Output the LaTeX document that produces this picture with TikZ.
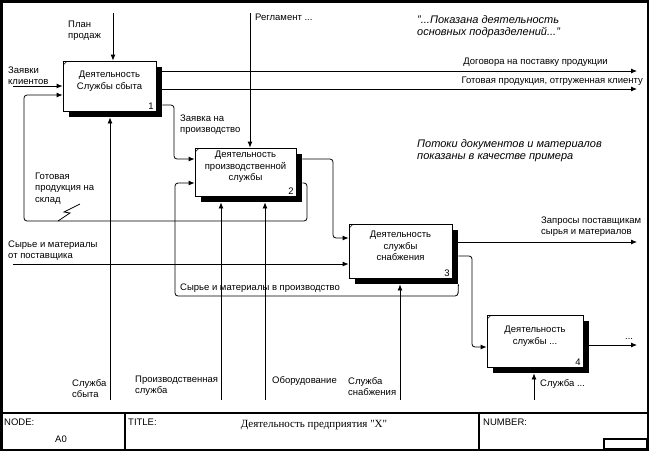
\documentclass[tikz,border=0pt]{standalone}
\usepackage{fontspec}
\setmainfont{Liberation Sans}
\newfontfamily\titlefont{Liberation Serif}
\usetikzlibrary{arrows.meta,shadows,calc}

\begin{document}
\begin{tikzpicture}[x=1pt,y=-1pt,
    every node/.style={font=\fontsize{9.5}{11.5}\selectfont, inner sep=0pt},
    func/.style={draw, line width=0.8pt, fill=white,
      drop shadow={shadow xshift=6pt, shadow yshift=-6pt, fill=black, opacity=1}},
    ftext/.style={align=center},
    fnum/.style={anchor=south east, inner xsep=2.5pt, inner ysep=2pt},
    lbl/.style={anchor=base west, align=left},% base = last line
    rlbl/.style={anchor=base east, align=right},
    note/.style={anchor=base west, align=left, font=\fontsize{11}{12}\selectfont\itshape},
    flow/.style={line width=0.8pt, rounded corners=3pt, -{Latex[length=6pt,width=5pt]}},
    tick/.style={line width=0.5pt},
    frame/.style={line width=1.2pt}]
    \useasboundingbox (0,0) rectangle (649,451);
    % frame and title block
    \draw[line width=2.5pt] (1.25,1.25) rectangle (647.75,449.75);
    \draw[frame] (0,413) -- (649,413);
    \draw[frame] (125,413) -- (125,450);
    \draw[frame] (479,413) -- (479,450);
    \draw[frame] (604,439) rectangle (647,449);
    \node[lbl] (nodehd) at (4,425) {NODE:};
    \node[lbl] (nodeno) at (55,442) {A0};
    \node[lbl] (titlehd) at (128,425) {TITLE:};
    \node[anchor=base, font=\titlefont\fontsize{11}{13}\selectfont] (title) at (314,427) {Деятельность предприятия "X"};
    \node[lbl] (numhd) at (483,425) {NUMBER:};

    % functions
    \node[func, minimum width=93pt, minimum height=50pt] (b1) at (109.5,86) {};
    \node[ftext] (t1) at ([yshift=5pt]b1.center) {Деятельность\\Службы сбыта};
    \node[fnum] (n1) at (b1.south east) {1};
    \node[func, minimum width=101pt, minimum height=48pt] (b2) at (245.5,172) {};
    \node[ftext] (t2) at ([yshift=5pt]b2.center) {Деятельность\\производственной\\службы};
    \node[fnum] (n2) at (b2.south east) {2};
    \node[func, minimum width=103pt, minimum height=54pt] (b3) at (400.5,251) {};
    \node[ftext] (t3) at ([yshift=5pt]b3.center) {Деятельность\\службы\\снабжения};
    \node[fnum] (n3) at (b3.south east) {3};
    \node[func, minimum width=96pt, minimum height=52pt] (b4) at (535,341) {};
    \node[ftext] (t4) at ([yshift=5pt]b4.center) {Деятельность\\службы ...};
    \node[fnum] (n4) at (b4.south east) {4};
    \foreach \b in {b1,b2,b3,b4}
      \draw[tick] ($(\b.north west)+(1,4)$) -- ++(3,-3);

    % free ends
    \coordinate (zk) at (13,86);
    \coordinate (plan) at (113,13);
    \coordinate (regl) at (250,13);
    \coordinate (dog) at (637,71);
    \coordinate (gotk) at (637,89);
    \coordinate (syr) at (13,264);
    \coordinate (zapr) at (637,242);
    \coordinate (dots) at (637,345);
    \coordinate (m1) at (110,400);
    \coordinate (m2) at (221,400);
    \coordinate (m3) at (265,400);
    \coordinate (m4) at (400,400);
    \coordinate (m5) at (534,400);

    % inputs and controls
    \draw[flow] (zk) -- (zk -| b1.west);
    \draw[flow] (plan) -- (plan |- b1.north);
    \draw[flow] (regl) -- (regl |- b2.north);
    \draw[flow] (syr) -- (syr -| b3.west);
    % outputs
    \draw[flow] ($(dog -| b1.east)+(6,0)$) -- (dog);
    \draw[flow] ($(gotk -| b1.east)+(6,0)$) -- (gotk);
    \draw[flow] ($(zapr -| b3.east)+(6,0)$) -- (zapr);
    \draw[flow] ($(dots -| b4.east)+(6,0)$) -- (dots);
    % flows between functions
    \draw[flow] ($(b1.east |- 0,105)+(6,0)$) -- (174,105) -- (174,159) -- (b2.west |- 0,159);
    \draw[flow] ($(b2.east |- 0,159)+(6,0)$) -- (333,159) -- (333,238) -- (b3.west |- 0,238);
    \draw[flow] ($(b3.east |- 0,256)+(6,0)$) -- (472,256) -- (472,347) -- (b4.west |- 0,347);
    \draw[flow] ($(b2.east |- 0,183)+(6,0)$) -- (307,183) -- (307,221) -- (24,221) -- (24,95) -- (b1.west |- 0,95);
    \draw[flow] ($(b3.south east)+(6,6)$) -- (458,296) -- (175,296) -- (175,183) -- (b2.west |- 0,183);
    % mechanisms
    \draw[flow] (m1) -- ($(m1 |- b1.south)+(0,6)$);
    \draw[flow] (m2) -- ($(m2 |- b2.south)+(0,6)$);
    \draw[flow] (m3) -- ($(m3 |- b2.south)+(0,6)$);
    \draw[flow] (m4) -- ($(m4 |- b3.south)+(0,6)$);
    \draw[flow] (m5) -- ($(m5 |- b4.south)+(0,6)$);
    % squiggle
    \draw[line width=0.8pt] (58,221) -- (70,213) -- (64,212) -- (80,204);

    % labels
    \node[lbl] (lplan) at (68,38.5) {План\\продаж};
    \node[lbl] (lzk) at (8,84.5) {Заявки\\клиентов};
    \node[lbl] (lregl) at (255,20) {Регламент ...};
    \node[rlbl] (ldog) at (608,64) {Договора на поставку продукции};
    \node[rlbl] (lgotk) at (643,83) {Готовая продукция, отгруженная клиенту};
    \node[lbl] (lzpr) at (180,132.5) {Заявка на\\производство};
    \node[lbl] (lsklad) at (35,202) {Готовая\\продукция на\\склад};
    \node[lbl] (lsyr) at (8,258.5) {Сырье и материалы\\от поставщика};
    \node[lbl] (lsyrp) at (180,290) {Сырье и материалы в производство};
    \node[lbl] (lzapr) at (541,234.5) {Запросы поставщикам\\сырья и материалов};
    \node[lbl] (ldots) at (625,339) {...};
    \node[lbl] (lm1) at (72,397.5) {Служба\\сбыта};
    \node[lbl] (lm2) at (135,393.5) {Производственная\\служба};
    \node[lbl] (lm3) at (272,383) {Оборудование};
    \node[lbl] (lm4) at (348,395.5) {Служба\\снабжения};
    \node[lbl] (lm5) at (540,386) {Служба ...};
    \node[note] (c1) at (417,35) {"...Показана деятельность\\основных подразделений..."};
    \node[note] (c2) at (417,159) {Потоки документов и материалов\\показаны в качестве примера};
  \end{tikzpicture}
\end{document}
